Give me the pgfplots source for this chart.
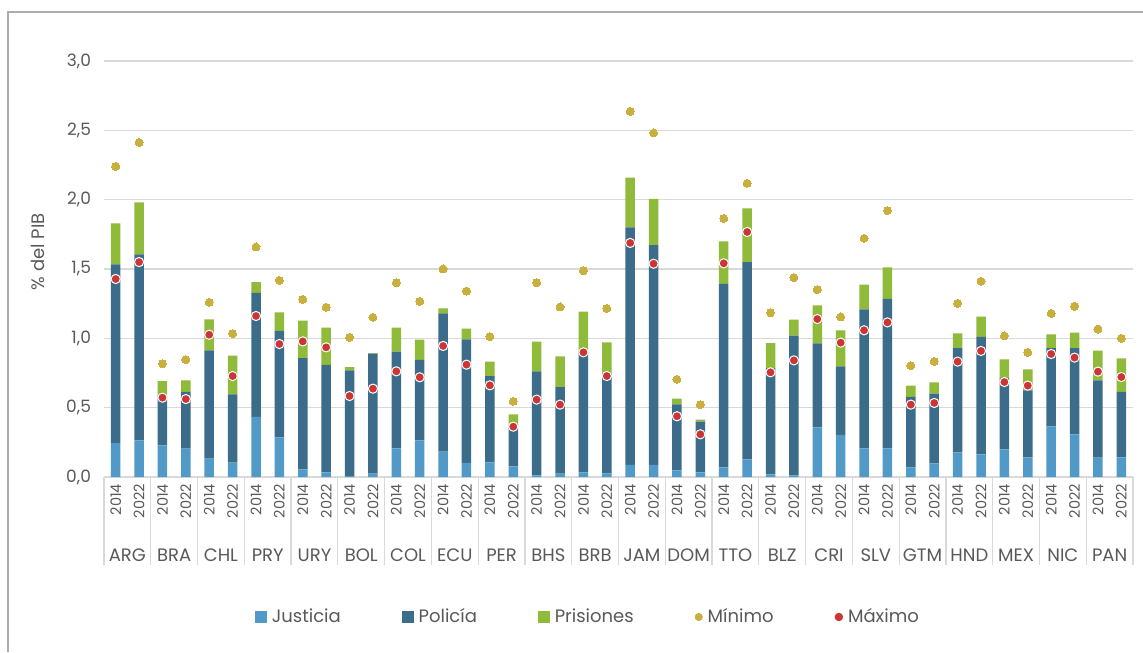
\documentclass[border=0pt]{standalone}
\usepackage{fontspec}
\setmainfont{Poppins}
\usepackage{pgfplots}
\usepackage{pgfplotstable}
\pgfplotsset{compat=1.18}
\definecolor{cJ}{HTML}{5199C7}
\definecolor{cP}{HTML}{3B6D8B}
\definecolor{cR}{HTML}{8FBA3A}
\definecolor{cMin}{HTML}{C8AF3E}
\definecolor{cMax}{HTML}{CC3535}
\definecolor{txt}{HTML}{595959}
\definecolor{grd}{HTML}{D9D9D9}

% x J(Justicia) P(Policia) R(Prisiones) mn(Minimo) mx(Maximo)
\pgfplotstableread{
x J P R mn mx
0 0.245 1.289 0.295 2.240 1.428
1 0.264 1.342 0.375 2.413 1.550
2 0.228 0.361 0.103 0.817 0.572
3 0.204 0.409 0.084 0.846 0.562
4 0.132 0.781 0.224 1.260 1.026
5 0.103 0.493 0.279 1.034 0.728
6 0.433 0.894 0.079 1.659 1.161
7 0.286 0.767 0.135 1.418 0.959
8 0.055 0.803 0.269 1.281 0.978
9 0.034 0.774 0.269 1.224 0.935
10 0.007 0.762 0.024 1.007 0.584
11 0.024 0.865 0.005 1.151 0.637
12 0.207 0.697 0.173 1.401 0.762
13 0.264 0.580 0.146 1.267 0.719
14 0.183 0.997 0.036 1.500 0.945
15 0.101 0.892 0.077 1.341 0.810
16 0.106 0.622 0.104 1.012 0.661
17 0.077 0.293 0.082 0.546 0.363
18 0.012 0.750 0.214 1.401 0.558
19 0.024 0.625 0.221 1.226 0.522
20 0.034 0.867 0.291 1.488 0.899
21 0.026 0.719 0.226 1.216 0.728
22 0.087 1.713 0.359 2.637 1.688
23 0.087 1.586 0.332 2.481 1.538
24 0.048 0.476 0.041 0.704 0.438
25 0.034 0.365 0.014 0.522 0.308
26 0.070 1.322 0.308 1.865 1.541
27 0.127 1.423 0.388 2.118 1.767
28 0.019 0.767 0.180 1.185 0.755
29 0.012 1.007 0.116 1.438 0.841
30 0.358 0.606 0.274 1.351 1.139
31 0.303 0.495 0.260 1.154 0.969
32 0.207 1.002 0.178 1.721 1.058
33 0.207 1.077 0.228 1.921 1.115
34 0.070 0.507 0.082 0.803 0.522
35 0.099 0.502 0.082 0.834 0.534
36 0.178 0.752 0.106 1.252 0.832
37 0.163 0.847 0.146 1.411 0.909
38 0.200 0.514 0.135 1.017 0.685
39 0.142 0.483 0.151 0.899 0.659
40 0.365 0.565 0.099 1.180 0.887
41 0.308 0.622 0.111 1.231 0.861
42 0.139 0.558 0.214 1.067 0.760
43 0.142 0.471 0.243 1.000 0.721
}\data

\begin{document}
\begin{tikzpicture}
\useasboundingbox (0,0) rectangle (571.5pt,326pt);
\draw[color=black!32, line width=0.6pt] (4pt,0) -- (4pt,320pt) -- (571.5pt,320pt);
\pgfplotsset{base/.style={scale only axis, width=514.5pt, height=208pt,
  xmin=-0.5, xmax=43.5, ymin=0, ymax=3, at={(52pt,87.5pt)}, anchor=south west, clip=false}}
\begin{axis}[base, ybar stacked, bar width=4.75pt,
  axis line style={draw=none},
  ymajorgrids, grid style={grd, line width=0.75pt},
  ytick={0,0.5,1,1.5,2,2.5,3},
  ytick pos=left, xtick pos=bottom,
  major tick length=0pt,
  yticklabel style={font=\fontsize{8.5}{10}\selectfont, text=txt, xshift=-3pt,
    /pgf/number format/.cd, fixed, fixed zerofill, precision=1, use comma, assume math mode=true},
  xtick={0,...,43},
  xticklabels={2014,2022,2014,2022,2014,2022,2014,2022,2014,2022,2014,2022,2014,2022,2014,2022,2014,2022,2014,2022,2014,2022,2014,2022,2014,2022,2014,2022,2014,2022,2014,2022,2014,2022,2014,2022,2014,2022,2014,2022,2014,2022,2014,2022},
  xticklabel style={rotate=90, anchor=east, font=\fontsize{7.25}{8.5}\selectfont, text=txt},
  extra x ticks={-0.5,1.5,3.5,5.5,7.5,9.5,11.5,13.5,15.5,17.5,19.5,21.5,23.5,25.5,27.5,29.5,31.5,33.5,35.5,37.5,39.5,41.5,43.5},
  extra x tick labels={},
  extra x tick style={major tick length=44pt, tick align=outside, major tick style={grd, line width=0.6pt}},
  ylabel={\% del PIB},
  ylabel style={at={(axis description cs:-0.0641,0.541)}, anchor=center, font=\fontsize{9}{11}\selectfont, text=txt},
]
\addplot[fill=cJ, draw=none] table[x=x, y=J]{\data};
\addplot[fill=cP, draw=none] table[x=x, y=P]{\data};
\addplot[fill=cR, draw=none] table[x=x, y=R]{\data};
\tikzset{cty/.style={font=\fontsize{9}{11}\selectfont, text=txt, yshift=-39pt}}
\node[cty] at (axis cs:0.5,0) {ARG};
\node[cty] at (axis cs:2.5,0) {BRA};
\node[cty] at (axis cs:4.5,0) {CHL};
\node[cty] at (axis cs:6.5,0) {PRY};
\node[cty] at (axis cs:8.5,0) {URY};
\node[cty] at (axis cs:10.5,0) {BOL};
\node[cty] at (axis cs:12.5,0) {COL};
\node[cty] at (axis cs:14.5,0) {ECU};
\node[cty] at (axis cs:16.5,0) {PER};
\node[cty] at (axis cs:18.5,0) {BHS};
\node[cty] at (axis cs:20.5,0) {BRB};
\node[cty] at (axis cs:22.5,0) {JAM};
\node[cty] at (axis cs:24.5,0) {DOM};
\node[cty] at (axis cs:26.5,0) {TTO};
\node[cty] at (axis cs:28.5,0) {BLZ};
\node[cty] at (axis cs:30.5,0) {CRI};
\node[cty] at (axis cs:32.5,0) {SLV};
\node[cty] at (axis cs:34.5,0) {GTM};
\node[cty] at (axis cs:36.5,0) {HND};
\node[cty] at (axis cs:38.5,0) {MEX};
\node[cty] at (axis cs:40.5,0) {NIC};
\node[cty] at (axis cs:42.5,0) {PAN};
\end{axis}
\begin{axis}[base, hide axis,
  legend columns=5,
  legend style={draw=none, fill=none, at={(axis description cs:0.4713,-0.3365)}, anchor=center,
    font=\fontsize{9}{11}\selectfont, text=txt,
    /tikz/every odd column/.append style={column sep=0.5pt},
    /tikz/every even column/.append style={column sep=28.5pt}},
]
\addlegendimage{legend image code/.code={\fill[cJ] (0pt,-2.75pt) rectangle (5.5pt,2.75pt);}}
\addlegendentry{Justicia}
\addlegendimage{legend image code/.code={\fill[cP] (0pt,-2.75pt) rectangle (5.5pt,2.75pt);}}
\addlegendentry{Policía}
\addlegendimage{legend image code/.code={\fill[cR] (0pt,-2.75pt) rectangle (5.5pt,2.75pt);}}
\addlegendentry{Prisiones}
\addlegendimage{legend image code/.code={\fill[cMin] (2.75pt,0pt) circle (1.8pt);}}
\addlegendentry{Mínimo}
\addlegendimage{legend image code/.code={\fill[cMax] (2.75pt,0pt) circle (1.9pt);}}
\addlegendentry{Máximo}
\addplot[only marks, color=cMin, mark=*, mark size=2pt, mark options={fill=cMin, draw=cMin, line width=0pt}, forget plot] table[x=x, y=mn]{\data};
\addplot[only marks, color=cMax, mark=*, mark size=2.3pt, mark options={fill=cMax, draw=white, line width=0.5pt}, forget plot] table[x=x, y=mx]{\data};
\end{axis}
\end{tikzpicture}
\end{document}
